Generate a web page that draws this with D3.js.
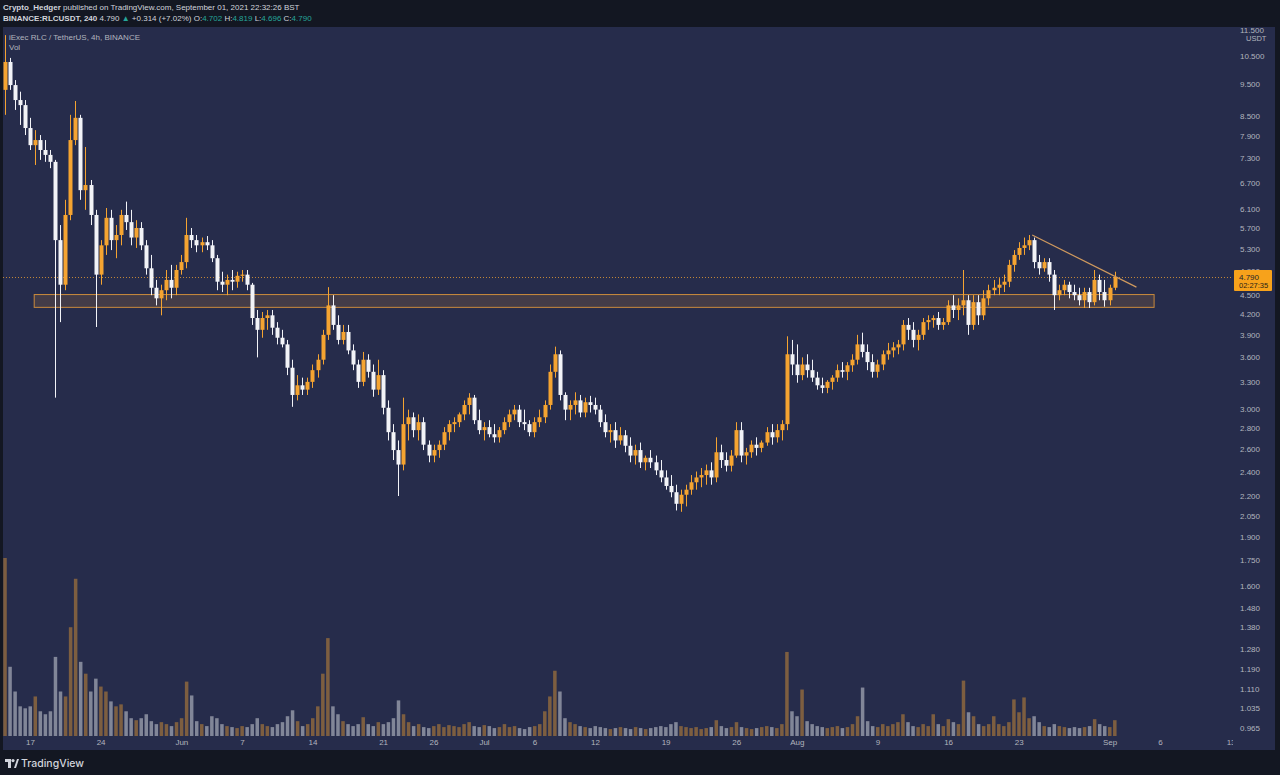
<!DOCTYPE html>
<html>
<head>
<meta charset="utf-8">
<script src="https://cdn.jsdelivr.net/npm/d3@7"></script>
<style>
  html, body { margin: 0; padding: 0; background: #131722; }
  svg { display: block; font-family: "Liberation Sans", Arial, sans-serif; }
</style>
</head>
<body>
<script>
const firstCandle = Date.UTC(2021, 4, 14, 12);
const candleMs = 12 * 3600 * 1000;
const firstOpen = 9.31;

const closes = [
  10.28, 9.47, 8.98, 8.82, 8.13, 7.65, 7.79, 7.52, 7.39, 7.21,
  5.46, 4.66, 5.97, 7.79, 8.43, 6.52, 6.64, 5.97, 4.83, 5.36,
  5.91, 5.46, 5.56, 5.97, 5.82, 5.51, 5.70, 5.36, 4.94, 4.61,
  4.44, 4.57, 4.74, 4.61, 4.91, 5.05, 5.56, 5.46, 5.36, 5.42,
  5.36, 5.12, 4.71, 4.66, 4.74, 4.71, 4.81, 4.83, 4.66, 4.14,
  3.97, 4.14, 4.18, 4.00, 3.86, 3.77, 3.47, 3.15, 3.26, 3.21,
  3.30, 3.44, 3.57, 3.90, 4.33, 4.04, 3.83, 3.94, 3.69, 3.51,
  3.30, 3.57, 3.42, 3.21, 3.38, 3.01, 2.76, 2.59, 2.46, 2.84,
  2.91, 2.78, 2.86, 2.64, 2.54, 2.59, 2.64, 2.76, 2.84, 2.86,
  2.94, 3.04, 3.12, 2.88, 2.78, 2.81, 2.74, 2.71, 2.78, 2.86,
  2.94, 2.99, 2.86, 2.84, 2.76, 2.86, 2.91, 3.04, 3.42, 3.64,
  3.15, 2.99, 3.04, 3.09, 2.96, 3.07, 3.04, 2.99, 2.86, 2.76,
  2.78, 2.68, 2.73, 2.63, 2.54, 2.59, 2.48, 2.52, 2.48, 2.41,
  2.35, 2.28, 2.23, 2.14, 2.21, 2.25, 2.31, 2.35, 2.37, 2.41,
  2.35, 2.57, 2.50, 2.45, 2.54, 2.78, 2.54, 2.57, 2.64, 2.61,
  2.66, 2.76, 2.71, 2.78, 2.84, 3.64, 3.51, 3.38, 3.51, 3.44,
  3.35, 3.26, 3.23, 3.30, 3.35, 3.44, 3.42, 3.50, 3.57, 3.77,
  3.67, 3.54, 3.42, 3.51, 3.64, 3.69, 3.73, 3.77, 4.04, 3.97,
  3.83, 3.90, 4.08, 4.11, 4.14, 4.04, 4.08, 4.33, 4.26, 4.33,
  4.41, 4.04, 4.38, 4.18, 4.44, 4.57, 4.61, 4.66, 4.71, 5.00,
  5.18, 5.31, 5.36, 5.46, 5.05, 4.94, 5.05, 4.83, 4.49, 4.57,
  4.66, 4.54, 4.49, 4.41, 4.54, 4.38, 4.74, 4.54, 4.41, 4.61,
  4.79
];

const highs = [
  11.31, 10.43, 9.64, 9.25, 8.98, 8.43, 8.07, 7.93, 7.79, 7.52,
  7.26, 5.76, 6.30, 8.52, 8.95, 8.52, 7.60, 6.76, 6.08, 5.46,
  6.12, 6.08, 5.76, 6.08, 6.26, 6.08, 5.86, 5.82, 5.46, 5.18,
  4.74, 4.66, 4.91, 5.00, 5.00, 5.18, 5.91, 5.70, 5.56, 5.51,
  5.54, 5.46, 5.18, 4.88, 4.83, 4.91, 4.88, 4.91, 4.91, 4.69,
  4.26, 4.23, 4.26, 4.26, 4.08, 3.97, 3.83, 3.57, 3.38, 3.35,
  3.35, 3.51, 3.64, 3.97, 4.62, 4.49, 4.18, 4.04, 4.04, 3.77,
  3.57, 3.67, 3.64, 3.51, 3.57, 3.44, 3.09, 2.84, 2.68, 3.12,
  2.99, 2.96, 2.94, 2.91, 2.68, 2.64, 2.68, 2.81, 2.88, 2.91,
  2.96, 3.09, 3.17, 3.15, 2.99, 2.86, 2.88, 2.84, 2.81, 2.91,
  2.99, 3.04, 3.04, 2.99, 2.88, 2.91, 2.99, 3.09, 3.51, 3.74,
  3.69, 3.18, 3.09, 3.18, 3.15, 3.12, 3.14, 3.12, 3.04, 2.94,
  2.84, 2.86, 2.81, 2.78, 2.71, 2.64, 2.66, 2.54, 2.59, 2.54,
  2.50, 2.41, 2.37, 2.29, 2.25, 2.29, 2.37, 2.40, 2.43, 2.46,
  2.48, 2.71, 2.64, 2.57, 2.59, 2.86, 2.86, 2.61, 2.68, 2.71,
  2.68, 2.81, 2.84, 2.84, 2.88, 3.88, 3.83, 3.77, 3.60, 3.64,
  3.57, 3.42, 3.35, 3.32, 3.38, 3.51, 3.54, 3.54, 3.64, 3.90,
  3.93, 3.77, 3.64, 3.57, 3.69, 3.79, 3.80, 3.83, 4.11, 4.14,
  4.08, 3.97, 4.14, 4.18, 4.18, 4.23, 4.14, 4.41, 4.49, 4.44,
  4.91, 4.49, 4.49, 4.49, 4.57, 4.66, 4.74, 4.77, 4.83, 5.09,
  5.27, 5.42, 5.51, 5.56, 5.51, 5.18, 5.12, 5.12, 4.91, 4.66,
  4.74, 4.71, 4.66, 4.61, 4.61, 4.61, 4.91, 4.83, 4.74, 4.66,
  4.88
];

const lows = [
  8.52, 9.31, 8.67, 8.22, 7.93, 7.52, 7.13, 7.26, 7.21, 7.05,
  3.12, 4.08, 4.57, 5.86, 7.65, 6.30, 6.08, 5.76, 4.01, 4.66,
  5.18, 5.27, 5.12, 5.36, 5.66, 5.36, 5.31, 5.27, 4.83, 4.49,
  4.33, 4.18, 4.41, 4.44, 4.49, 4.83, 4.94, 5.31, 5.23, 5.23,
  5.27, 5.05, 4.57, 4.54, 4.49, 4.57, 4.61, 4.71, 4.57, 4.04,
  3.60, 3.86, 3.97, 3.90, 3.77, 3.73, 3.38, 3.02, 3.09, 3.15,
  3.15, 3.23, 3.35, 3.51, 3.83, 3.97, 3.77, 3.77, 3.64, 3.44,
  3.23, 3.25, 3.35, 3.13, 3.15, 2.94, 2.68, 2.50, 2.20, 2.41,
  2.68, 2.71, 2.68, 2.59, 2.48, 2.48, 2.52, 2.59, 2.68, 2.76,
  2.81, 2.88, 2.94, 2.84, 2.74, 2.68, 2.71, 2.66, 2.66, 2.74,
  2.81, 2.88, 2.81, 2.78, 2.72, 2.71, 2.81, 2.85, 2.99, 3.35,
  3.09, 2.88, 2.88, 2.94, 2.91, 2.91, 2.96, 2.94, 2.81, 2.71,
  2.66, 2.61, 2.64, 2.57, 2.48, 2.46, 2.43, 2.41, 2.43, 2.37,
  2.31, 2.25, 2.19, 2.09, 2.08, 2.12, 2.21, 2.25, 2.27, 2.29,
  2.29, 2.31, 2.43, 2.40, 2.40, 2.52, 2.48, 2.46, 2.52, 2.54,
  2.57, 2.63, 2.64, 2.66, 2.68, 2.78, 3.38, 3.29, 3.32, 3.35,
  3.30, 3.21, 3.17, 3.17, 3.21, 3.30, 3.35, 3.32, 3.42, 3.51,
  3.60, 3.44, 3.35, 3.35, 3.44, 3.57, 3.60, 3.64, 3.69, 3.83,
  3.73, 3.69, 3.83, 3.97, 4.00, 3.97, 3.97, 4.04, 4.14, 4.11,
  4.18, 3.90, 3.97, 4.04, 4.11, 4.33, 4.49, 4.49, 4.54, 4.62,
  4.88, 5.09, 5.18, 5.27, 4.94, 4.83, 4.88, 4.71, 4.26, 4.41,
  4.49, 4.44, 4.41, 4.33, 4.29, 4.29, 4.33, 4.41, 4.31, 4.33,
  4.57
];

// volume, relative units
const volumes = [
  180, 70, 45, 30, 28, 30, 40, 25, 22, 25,
  80, 45, 40, 110, 159, 75, 63, 45, 58, 50,
  45, 35, 30, 32, 25, 18, 16, 18, 22, 15,
  12, 14, 12, 10, 14, 18, 55, 41, 15, 12,
  10, 20, 18, 12, 10, 9, 8, 10, 9, 12,
  18, 12, 10, 9, 12, 14, 20, 26, 15, 10,
  12, 18, 30, 63, 99, 30, 22, 15, 12, 10,
  12, 19, 12, 10, 14, 12, 14, 18, 36, 22,
  14, 10, 12, 9, 8, 10, 12, 9, 11, 10,
  9, 12, 14, 10, 9, 11, 10, 8, 9, 12,
  9, 10, 8, 7, 9, 10, 12, 25, 40, 66,
  45, 18, 14, 12, 10, 9, 8, 10, 9, 8,
  7, 8, 9, 8, 7, 9, 8, 7, 8, 9,
  10, 9, 12, 14, 10, 9, 8, 9, 7, 8,
  9, 16, 10, 8, 9, 14, 9, 8, 7, 8,
  9, 10, 9, 8, 12, 85, 25, 20, 47, 15,
  12, 10, 9, 8, 9, 10, 8, 9, 12, 20,
  49, 15, 10, 9, 12, 10, 12, 14, 22, 14,
  10, 9, 12, 10, 22, 12, 10, 17, 14, 12,
  56, 24, 20, 12, 10, 12, 20, 12, 10, 14,
  37, 24, 39, 18, 20, 14, 10, 9, 12, 10,
  9, 8, 9, 8, 9, 10, 17, 12, 10, 9,
  16
];

const priceTicks = [11.5, 10.5, 9.5, 8.5, 7.9, 7.3, 6.7, 6.1, 5.7, 5.3, 4.9, 4.5, 4.2,
  3.9, 3.6, 3.3, 3.0, 2.8, 2.6, 2.4, 2.2, 2.05, 1.9, 1.75, 1.6, 1.48, 1.38, 1.28,
  1.19, 1.11, 1.035, 0.965];

const timeTickDates = ["2021-05-17", "2021-05-24", "2021-06-01", "2021-06-07", "2021-06-14",
  "2021-06-21", "2021-06-26", "2021-07-01", "2021-07-06", "2021-07-12", "2021-07-19",
  "2021-07-26", "2021-08-01", "2021-08-09", "2021-08-16", "2021-08-23", "2021-09-01",
  "2021-09-06", "2021-09-13"];
const timeTickLabels = ["17", "24", "Jun", "7", "14", "21", "26", "Jul", "6", "12", "19",
  "26", "Aug", "9", "16", "23", "Sep", "6", "13"];

const lastPrice = 4.790;
const countdown = "02:27:35";

// drawings
const zoneTimes = ["2021-05-17T10:00Z", "2021-09-05T10:00Z"];
const zonePrices = [4.30, 4.50];
const trendTimes = ["2021-08-24T08:00Z", "2021-09-03T16:00Z"];
const trendPrices = [5.56, 4.62];

const W = 1280, H = 775;
const pane = { left: 3, top: 27, right: 1275, bottom: 750 };
const plotRight = 1233, plotBottom = 736;

const orange = "#f5a431";
const white = "#f2f3f7";
const axisText = "#b2b5be";

const candles = closes.map((c, i) => ({
  t: new Date(firstCandle + i * candleMs),
  o: i === 0 ? firstOpen : closes[i - 1],
  h: highs[i],
  l: lows[i],
  c: c,
  v: volumes[i]
}));

const svg = d3.select("body").append("svg")
  .attr("width", W)
  .attr("height", H);

svg.append("rect").attr("width", W).attr("height", H).attr("fill", "#131722");
svg.append("rect")
  .attr("x", pane.left).attr("y", pane.top)
  .attr("width", pane.right - pane.left).attr("height", pane.bottom - pane.top)
  .attr("fill", "#262c4b");

const defs = svg.append("defs");
defs.append("clipPath").attr("id", "plot")
  .append("rect").attr("x", pane.left).attr("y", pane.top)
  .attr("width", plotRight - pane.left).attr("height", plotBottom - pane.top);
defs.append("clipPath").attr("id", "taxis")
  .append("rect").attr("x", pane.left).attr("y", plotBottom)
  .attr("width", plotRight - pane.left).attr("height", pane.bottom - plotBottom);
defs.append("clipPath").attr("id", "paxis")
  .append("rect").attr("x", plotRight).attr("y", pane.top)
  .attr("width", pane.right - plotRight).attr("height", plotBottom - pane.top);

// scales
const x = d3.scaleUtc()
  .domain([new Date("2021-05-17T00:00Z"), new Date("2021-09-13T00:00Z")])
  .range([30, 1230.6]);
const y = d3.scaleLog().domain([0.938, 11.64]).range([plotBottom, pane.top]);
const vy = d3.scaleLinear().domain([0, d3.max(volumes)]).range([plotBottom, plotBottom - 178]);

const g = svg.append("g").attr("clip-path", "url(#plot)");

// volume
g.append("g").selectAll("rect").data(candles).join("rect")
  .attr("x", d => x(d.t) - 1.5)
  .attr("y", d => vy(d.v))
  .attr("width", 3.5)
  .attr("height", d => plotBottom - vy(d.v))
  .attr("fill", d => d.c >= d.o ? orange : white)
  .attr("opacity", d => d.c >= d.o ? 0.42 : 0.45);

// support zone
g.append("rect")
  .attr("x", x(new Date(zoneTimes[0])))
  .attr("y", y(zonePrices[1]))
  .attr("width", x(new Date(zoneTimes[1])) - x(new Date(zoneTimes[0])))
  .attr("height", y(zonePrices[0]) - y(zonePrices[1]))
  .attr("fill", "rgba(185,125,60,0.2)")
  .attr("stroke", "#c98a3c")
  .attr("stroke-width", 1);

// last price line
g.append("line")
  .attr("x1", pane.left).attr("x2", plotRight)
  .attr("y1", Math.round(y(lastPrice)) + 0.5).attr("y2", Math.round(y(lastPrice)) + 0.5)
  .attr("stroke", orange).attr("stroke-opacity", 0.75)
  .attr("stroke-dasharray", "1,2");

// candles
const cg = g.append("g");
cg.selectAll("line").data(candles).join("line")
  .attr("x1", d => Math.round(x(d.t)) + 0.5)
  .attr("x2", d => Math.round(x(d.t)) + 0.5)
  .attr("y1", d => y(d.h))
  .attr("y2", d => y(d.l))
  .attr("stroke", d => d.c >= d.o ? orange : white)
  .attr("stroke-width", 1);
cg.selectAll("rect").data(candles).join("rect")
  .attr("x", d => Math.round(x(d.t)) - 1.5)
  .attr("y", d => y(Math.max(d.o, d.c)))
  .attr("width", 4)
  .attr("height", d => Math.max(1, Math.abs(y(d.o) - y(d.c))))
  .attr("fill", d => d.c >= d.o ? orange : white);

// trend line
g.append("line")
  .attr("x1", x(new Date(trendTimes[0]))).attr("y1", y(trendPrices[0]))
  .attr("x2", x(new Date(trendTimes[1]))).attr("y2", y(trendPrices[1]))
  .attr("stroke", "#d09a5e").attr("stroke-width", 1.2);

// price axis (clip on an untransformed wrapper)
const paWrap = svg.append("g").attr("clip-path", "url(#paxis)");
const pa = paWrap.append("g")
  .attr("transform", `translate(${plotRight + 4},0)`)
  .call(d3.axisRight(y).tickValues(priceTicks).tickFormat(d3.format(".3f")).tickSize(0));
pa.select(".domain").remove();
pa.selectAll("text")
  .attr("x", 3)
  .attr("fill", axisText)
  .attr("font-size", 8)
  .attr("font-family", "'Liberation Sans', Arial, sans-serif");

svg.append("text")
  .attr("x", 1246).attr("y", 41)
  .attr("fill", axisText).attr("font-size", 7.5)
  .text("USDT");

// last price tag
const tagY = y(lastPrice);
svg.append("rect")
  .attr("x", plotRight + 1).attr("y", tagY - 7)
  .attr("width", 38).attr("height", 21)
  .attr("rx", 1)
  .attr("fill", "#f7a21b");
svg.append("text")
  .attr("x", plotRight + 6).attr("y", tagY + 3)
  .attr("fill", "#1c1f2b").attr("font-size", 8)
  .text(d3.format(".3f")(lastPrice));
svg.append("text")
  .attr("x", plotRight + 6).attr("y", tagY + 11.5)
  .attr("fill", "#2a2418").attr("font-size", 7.5)
  .text(countdown);

// time axis (clip on an untransformed wrapper)
const taWrap = svg.append("g").attr("clip-path", "url(#taxis)");
const ta = taWrap.append("g")
  .attr("transform", `translate(0,${plotBottom})`)
  .call(d3.axisBottom(x)
    .tickValues(timeTickDates.map(s => new Date(s + "T00:00Z")))
    .tickFormat((d, i) => timeTickLabels[i])
    .tickSize(0));
ta.select(".domain").remove();
ta.selectAll("text")
  .attr("y", 3)
  .attr("fill", axisText)
  .attr("font-size", 8)
  .attr("font-family", "'Liberation Sans', Arial, sans-serif");

// legend inside pane
svg.append("text").attr("x", 9).attr("y", 40)
  .attr("fill", axisText).attr("font-size", 8)
  .text("iExec RLC / TetherUS, 4h, BINANCE");
svg.append("text").attr("x", 9).attr("y", 50)
  .attr("fill", axisText).attr("font-size", 8)
  .text("Vol");

// header
const h1 = svg.append("text").attr("x", 3).attr("y", 10)
  .attr("fill", "#d1d4dc").attr("font-size", 8);
h1.append("tspan").attr("font-weight", "bold").text("Crypto_Hedger");
h1.append("tspan").text(" published on TradingView.com, September 01, 2021 22:32:26 BST");

const teal = "#26a69a";
const h2 = svg.append("text").attr("x", 3).attr("y", 21)
  .attr("fill", "#d1d4dc").attr("font-size", 8);
h2.append("tspan").attr("font-weight", "bold").text("BINANCE:RLCUSDT, 240");
h2.append("tspan").text(" 4.790 ");
h2.append("tspan").attr("fill", teal).text("▲");
h2.append("tspan").text(" +0.314 (+7.02%) O:");
h2.append("tspan").attr("fill", teal).text("4.702");
h2.append("tspan").text(" H:");
h2.append("tspan").attr("fill", teal).text("4.819");
h2.append("tspan").text(" L:");
h2.append("tspan").attr("fill", teal).text("4.696");
h2.append("tspan").text(" C:");
h2.append("tspan").attr("fill", teal).text("4.790");

// footer logo
const logo = svg.append("g").attr("transform", "translate(5,759)").attr("fill", "#d1d4dc");
logo.append("path").attr("d", "M0,0 H6 V9 H3 V3 H0 Z");
logo.append("circle").attr("cx", 8).attr("cy", 1.6).attr("r", 1.6);
logo.append("path").attr("d", "M9,9 L12,0 H14 L11,9 Z");
svg.append("text").attr("x", 21).attr("y", 767)
  .attr("fill", "#d1d4dc").attr("font-size", 10.5)
  .attr("font-family", "Inter, 'Open Sans', sans-serif")
  .attr("font-weight", 500)
  .text("TradingView");
</script>
</body>
</html>
